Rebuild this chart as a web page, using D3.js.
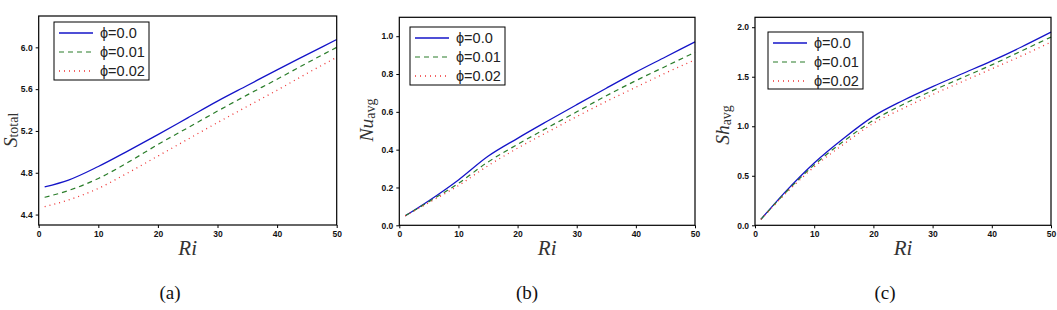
<!DOCTYPE html>
<html>
<head>
<meta charset="utf-8">
<script src="https://cdn.jsdelivr.net/npm/d3@7"></script>
<style>
  body { margin: 0; background: #fff; }
  .serif { font-family: "Liberation Serif", "DejaVu Serif", serif; }
  .sans { font-family: Arial, "Liberation Sans", sans-serif; }
</style>
</head>
<body>
<div id="chart"></div>
<script>
const ri = [1, 5, 10, 15, 20, 25, 30, 35, 40, 45, 50];

const phiLabels = ["\u03d5=0.0", "\u03d5=0.01", "\u03d5=0.02"];

// (a) total entropy generation
const sTotal00 = [4.665, 4.73, 4.86, 5.01, 5.165, 5.325, 5.485, 5.635, 5.785, 5.93, 6.075];
const sTotal01 = [4.565, 4.63, 4.745, 4.9, 5.07, 5.23, 5.39, 5.545, 5.695, 5.85, 6.0];
const sTotal02 = [4.475, 4.54, 4.65, 4.80, 4.96, 5.12, 5.28, 5.435, 5.59, 5.75, 5.905];

// (b) average Nusselt number
const nu00 = [0.05, 0.13, 0.24, 0.365, 0.46, 0.55, 0.638, 0.725, 0.81, 0.89, 0.97];
const nu01 = [0.05, 0.125, 0.222, 0.335, 0.428, 0.515, 0.60, 0.685, 0.765, 0.84, 0.915];
const nu02 = [0.05, 0.12, 0.21, 0.315, 0.408, 0.492, 0.575, 0.655, 0.73, 0.805, 0.875];

// (c) average Sherwood number
const sh00 = [0.06, 0.33, 0.63, 0.88, 1.10, 1.26, 1.40, 1.53, 1.66, 1.80, 1.95];
const sh01 = [0.06, 0.32, 0.61, 0.85, 1.06, 1.22, 1.36, 1.49, 1.62, 1.76, 1.90];
const sh02 = [0.06, 0.31, 0.59, 0.82, 1.03, 1.18, 1.32, 1.45, 1.58, 1.71, 1.85];

const xTicks = [0, 10, 20, 30, 40, 50];
const yTicksA = [4.4, 4.8, 5.2, 5.6, 6.0];
const yTicksB = [0.0, 0.2, 0.4, 0.6, 0.8, 1.0];
const yTicksC = [0.0, 0.5, 1.0, 1.5, 2.0];

const width = 1057, height = 310;

const styles = [
  { color: "#1414c8", dash: null, w: 1.3 },
  { color: "#2a7d2a", dash: "5,4", w: 1.2 },
  { color: "#ee3333", dash: "1,4", w: 1.3 }
];

const panels = [
  { left: 38.7, right: 336.7, top: 16, bottom: 225, yDomain: [4.3, 6.3], yTicks: yTicksA,
    series: [sTotal00, sTotal01, sTotal02], tag: "(a)", tagX: 170,
    ylab: ["S", "total"], ylabX: 17, ylabY: 130, subDy: 0.5,
    legend: { x: 54, y: 22, w: 95, h: 58 } },
  { left: 399.3, right: 695, top: 17.3, bottom: 225.3, yDomain: [0, 1.1], yTicks: yTicksB,
    series: [nu00, nu01, nu02], tag: "(b)", tagX: 527,
    ylab: ["Nu", "avg"], ylabX: 373, ylabY: 120, subDy: 2,
    legend: { x: 410, y: 27, w: 95, h: 58 } },
  { left: 755, right: 1051, top: 17.3, bottom: 225.3, yDomain: [0, 2.1], yTicks: yTicksC,
    series: [sh00, sh01, sh02], tag: "(c)", tagX: 885,
    ylab: ["Sh", "avg"], ylabX: 729, ylabY: 125, subDy: 2,
    legend: { x: 768, y: 32, w: 95, h: 57 } }
];

const svg = d3.select("#chart")
  .append("svg")
  .attr("width", width)
  .attr("height", height);

panels.forEach(p => {
  const x = d3.scaleLinear().domain([0, 50]).range([p.left, p.right]);
  const y = d3.scaleLinear().domain(p.yDomain).range([p.bottom, p.top]);
  const g = svg.append("g");

  // axes
  g.append("g")
    .attr("transform", `translate(0,${p.bottom})`)
    .call(d3.axisBottom(x).tickValues(xTicks).tickSize(3).tickPadding(3).tickFormat(d3.format("d")))
    .call(a => a.select(".domain").remove())
    .call(a => a.selectAll("text").attr("class", "sans").attr("font-size", 8.5)
      .attr("font-weight", "bold").attr("fill", "#111"));

  g.append("g")
    .attr("transform", `translate(${p.left},0)`)
    .call(d3.axisLeft(y).tickValues(p.yTicks).tickSize(3).tickPadding(3).tickFormat(d3.format(".1f")))
    .call(a => a.select(".domain").remove())
    .call(a => a.selectAll("text").attr("class", "sans").attr("font-size", 8.5)
      .attr("font-weight", "bold").attr("fill", "#111"));

  // curves
  const line = d3.line()
    .x((d, i) => x(ri[i]))
    .y(d => y(d))
    .curve(d3.curveMonotoneX);

  p.series.forEach((s, k) => {
    g.append("path")
      .datum(s)
      .attr("fill", "none")
      .attr("stroke", styles[k].color)
      .attr("stroke-width", styles[k].w)
      .attr("stroke-dasharray", styles[k].dash)
      .attr("d", line);
  });

  // frame
  g.append("rect")
    .attr("x", p.left).attr("y", p.top)
    .attr("width", p.right - p.left).attr("height", p.bottom - p.top)
    .attr("fill", "none").attr("stroke", "#000").attr("stroke-width", 1.2);

  // legend
  const lg = g.append("g").attr("transform", `translate(${p.legend.x},${p.legend.y})`);
  lg.append("rect")
    .attr("width", p.legend.w).attr("height", p.legend.h)
    .attr("fill", "#fff").attr("stroke", "#000").attr("stroke-width", 1);
  phiLabels.forEach((t, k) => {
    const cy = 11 + k * 19;
    lg.append("line")
      .attr("x1", 5).attr("x2", 39).attr("y1", cy).attr("y2", cy)
      .attr("stroke", styles[k].color)
      .attr("stroke-width", styles[k].w)
      .attr("stroke-dasharray", styles[k].dash);
    lg.append("text")
      .attr("class", "sans")
      .attr("x", 46).attr("y", cy)
      .attr("dy", "0.36em")
      .attr("font-size", 14.5)
      .attr("fill", "#222")
      .text(t);
  });

  // x label
  g.append("text")
    .attr("class", "serif")
    .attr("x", (p.left + p.right) / 2)
    .attr("y", 255)
    .attr("text-anchor", "middle")
    .attr("font-style", "italic")
    .attr("font-size", 21)
    .attr("fill", "#333")
    .text("Ri");

  // y label
  const yl = g.append("text")
    .attr("class", "serif")
    .attr("transform", `translate(${p.ylabX},${p.ylabY}) rotate(-90)`)
    .attr("text-anchor", "middle")
    .attr("fill", "#333");
  yl.append("tspan").attr("font-style", "italic").attr("font-size", 19.5).text(p.ylab[0]);
  yl.append("tspan").attr("font-size", 14).attr("dy", p.subDy).text(p.ylab[1]);

  // panel tag
  g.append("text")
    .attr("class", "serif")
    .attr("x", p.tagX)
    .attr("y", 299)
    .attr("text-anchor", "middle")
    .attr("font-size", 19)
    .attr("fill", "#111")
    .text(p.tag);
});
</script>
</body>
</html>
